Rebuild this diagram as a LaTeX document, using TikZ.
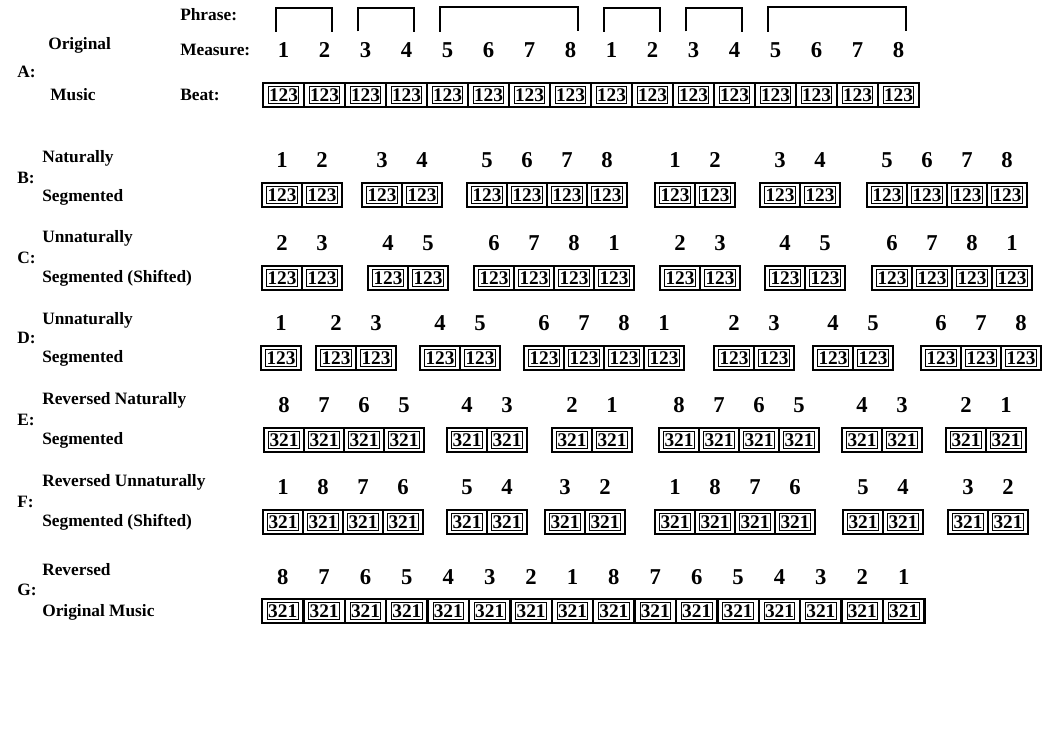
\documentclass[tikz,border=0pt]{standalone}
\usepackage{fontspec}
\setmainfont{Liberation Serif}
\usepackage{tikz}
\usetikzlibrary{positioning}

% one row of beat cells: name, y, cell width, beat text, number offset, groups
\newcommand{\beatrow}[6]{%
  \foreach \gx/\ms [count=\g] in {#6} {
    \foreach \m [count=\i] in \ms {
      \node [cell,minimum width=#3*0.75pt] (#1-\g-\i) at (\gx+\i*#3-#3/2,#2) {};
      \node [beat] (b#1-\g-\i) at (#1-\g-\i) {#4};
      \node [num] (n#1-\g-\i) at (\gx+\i*#3-#3/2,#2-#5) {\m};
    }
  }}

\begin{document}
\begin{tikzpicture}[
		x=0.75pt,y=-0.75pt,
		lbl/.style={anchor=west,inner sep=0pt,font=\bfseries\fontsize{13}{15}\selectfont},
		num/.style={inner sep=0pt,font=\bfseries\fontsize{17}{19}\selectfont},
		cell/.style={draw,line width=1.8pt,minimum height=18pt,inner sep=0pt},
		beat/.style={draw,line width=0.5pt,inner sep=0.6pt,minimum height=13pt,font=\bfseries\fontsize{14.5}{15}\selectfont},
		phrase/.style={draw,line width=1.5pt}
		]
		\useasboundingbox (0,0) rectangle (1045,744);
		
		% A
		\node [lbl] (A) at (17,72) {A:};
		\node [lbl] (A top) at (48,45) {Original};
		\node [lbl] (A bottom) at (50,95) {Music};
		\node [lbl] (phrase lbl) at (180,15) {Phrase:};
		\node [lbl] (measure lbl) at (180,50) {Measure:};
		\node [lbl] (beat lbl) at (180,95) {Beat:};
		\beatrow{A}{95}{41}{123}{45}{263/{1,2},345/{3,4},427/{5,6,7,8},591/{1,2},673/{3,4},755/{5,6,7,8}}
		\foreach \g/\l in {1/2,2/2,3/4,4/2,5/2,6/4}
		\path [phrase] ([xshift=-1pt,yshift=8pt]nA-\g-1.north west) |- ([xshift=1pt,yshift=26pt]nA-\g-\l.north east) -- ([xshift=1pt,yshift=8pt]nA-\g-\l.north east);
		
		% B
		\node [lbl] (B) at (17,178) {B:};
		\node [lbl] (B top) at (42,158) {Naturally};
		\node [lbl] (B bottom) at (42,197) {Segmented};
		\beatrow{B}{195}{40}{123}{35}{262/{1,2},362/{3,4},467/{5,6,7,8},655/{1,2},760/{3,4},867/{5,6,7,8}}
		
		% C
		\node [lbl] (C) at (17,258) {C:};
		\node [lbl] (C top) at (42,238) {Unnaturally};
		\node [lbl] (C bottom) at (42,278) {Segmented (Shifted)};
		\beatrow{C}{278}{40}{123}{35}{262/{2,3},368/{4,5},474/{6,7,8,1},660/{2,3},765/{4,5},872/{6,7,8,1}}
		
		% D
		\node [lbl] (D) at (17,338) {D:};
		\node [lbl] (D top) at (42,320) {Unnaturally};
		\node [lbl] (D bottom) at (42,358) {Segmented};
		\beatrow{D}{358}{40}{123}{35}{261/{1},316/{2,3},420/{4,5},524/{6,7,8,1},714/{2,3},813/{4,5},921/{6,7,8}}
		
		% E
		\node [lbl] (E) at (17,420) {E:};
		\node [lbl] (E top) at (42,400) {Reversed Naturally};
		\node [lbl] (E bottom) at (42,440) {Segmented};
		\beatrow{E}{440}{40}{321}{35}{264/{8,7,6,5},447/{4,3},552/{2,1},659/{8,7,6,5},842/{4,3},946/{2,1}}
		
		% F
		\node [lbl] (F) at (17,502) {F:};
		\node [lbl] (F top) at (42,482) {Reversed Unnaturally};
		\node [lbl] (F bottom) at (42,522) {Segmented (Shifted)};
		\beatrow{F}{522}{40}{321}{35}{263/{1,8,7,6},447/{5,4},545/{3,2},655/{1,8,7,6},843/{5,4},948/{3,2}}
		
		% G
		\node [lbl] (G) at (17,590) {G:};
		\node [lbl] (G top) at (42,570) {Reversed};
		\node [lbl] (G bottom) at (42,612) {Original Music};
		\beatrow{G}{611}{41.4}{321}{34}{262/{8,7,6,5,4,3,2,1,8,7,6,5,4,3,2,1}}
		
	\end{tikzpicture}
\end{document}
